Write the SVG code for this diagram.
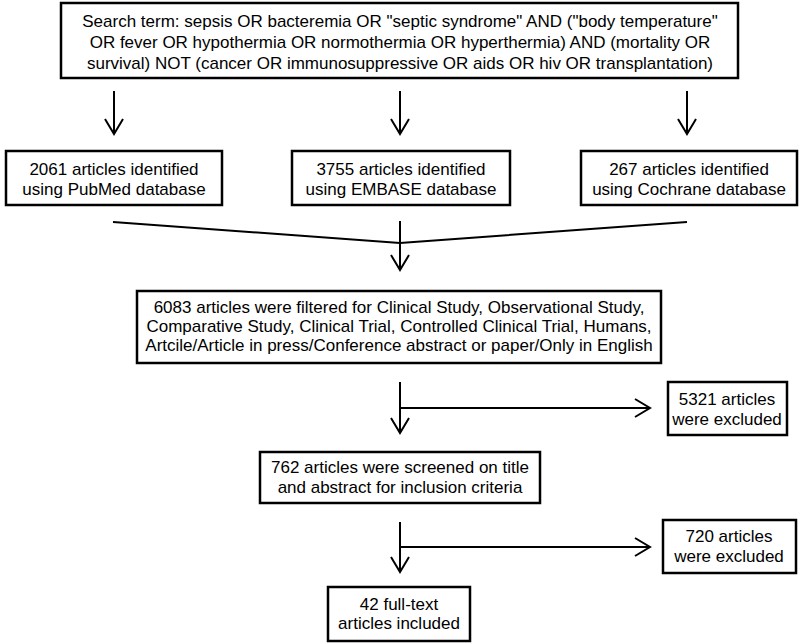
<svg xmlns="http://www.w3.org/2000/svg" width="800" height="644" viewBox="0 0 800 644">
<defs>
<style>
.box{fill:#fff;stroke:#000;stroke-width:2.5}
.t{font-family:"Liberation Sans",Arial,sans-serif;font-size:17px;fill:#000;text-anchor:middle}
.ln{fill:none;stroke:#000;stroke-width:2}
</style>
<marker id="ah" markerUnits="userSpaceOnUse" viewBox="-16 -10 18 20" refX="0" refY="0" markerWidth="18" markerHeight="20" orient="auto" overflow="visible">
<path d="M-15,-9 L0,0 L-15,9" fill="none" stroke="#000" stroke-width="2"/>
</marker>
</defs>
<rect width="800" height="644" fill="#fff"/>
<g id="connectors">
<line class="ln" x1="114" y1="91" x2="114" y2="134" marker-end="url(#ah)"/>
<line class="ln" x1="400" y1="91" x2="400" y2="134" marker-end="url(#ah)"/>
<line class="ln" x1="687" y1="91" x2="687" y2="134" marker-end="url(#ah)"/>
<polyline class="ln" points="113,222 400,243 687,222" stroke-width="2.5"/>
<line class="ln" x1="400" y1="221" x2="400" y2="270" marker-end="url(#ah)"/>
<line class="ln" x1="400" y1="382" x2="400" y2="433" marker-end="url(#ah)"/>
<line class="ln" x1="400" y1="408" x2="650" y2="408" marker-end="url(#ah)"/>
<line class="ln" x1="400" y1="522" x2="400" y2="572" marker-end="url(#ah)"/>
<line class="ln" x1="400" y1="547" x2="650" y2="547" marker-end="url(#ah)"/>
</g>
<g id="search">
<rect class="box" x="61" y="3" width="677" height="75"/>
<text class="t" x="400" y="27">Search term: sepsis OR bacteremia OR "septic syndrome" AND ("body temperature"</text>
<text class="t" x="400" y="48">OR fever OR hypothermia OR normothermia OR hyperthermia) AND (mortality OR</text>
<text class="t" x="400" y="69">survival) NOT (cancer OR immunosuppressive OR aids OR hiv OR transplantation)</text>
</g>
<g id="pubmed">
<rect class="box" x="6" y="151" width="216" height="54"/>
<text class="t" x="114" y="175">2061 articles identified</text>
<text class="t" x="114" y="195">using PubMed database</text>
</g>
<g id="embase">
<rect class="box" x="292" y="151" width="218" height="54"/>
<text class="t" x="401" y="175">3755 articles identified</text>
<text class="t" x="401" y="195">using EMBASE database</text>
</g>
<g id="cochrane">
<rect class="box" x="581" y="151" width="216" height="54"/>
<text class="t" x="689" y="175">267 articles identified</text>
<text class="t" x="689" y="195">using Cochrane database</text>
</g>
<g id="filtered">
<rect class="box" x="137" y="291" width="524" height="72"/>
<text class="t" x="399" y="313">6083 articles were filtered for Clinical Study, Observational Study,</text>
<text class="t" x="399" y="332">Comparative Study, Clinical Trial, Controlled Clinical Trial, Humans,</text>
<text class="t" x="399" y="351">Artcile/Article in press/Conference abstract or paper/Only in English</text>
</g>
<g id="excluded1">
<rect class="box" x="668" y="382" width="119" height="53"/>
<text class="t" x="727" y="405">5321 articles</text>
<text class="t" x="727" y="425">were excluded</text>
</g>
<g id="screened">
<rect class="box" x="260" y="452" width="280" height="51"/>
<text class="t" x="400" y="473">762 articles were screened on title</text>
<text class="t" x="400" y="493">and abstract for inclusion criteria</text>
</g>
<g id="excluded2">
<rect class="box" x="663" y="520" width="133" height="53"/>
<text class="t" x="729" y="542">720 articles</text>
<text class="t" x="729" y="562">were excluded</text>
</g>
<g id="included">
<rect class="box" x="328" y="587" width="142" height="54"/>
<text class="t" x="399" y="610">42 full-text</text>
<text class="t" x="399" y="629">articles included</text>
</g>
</svg>
